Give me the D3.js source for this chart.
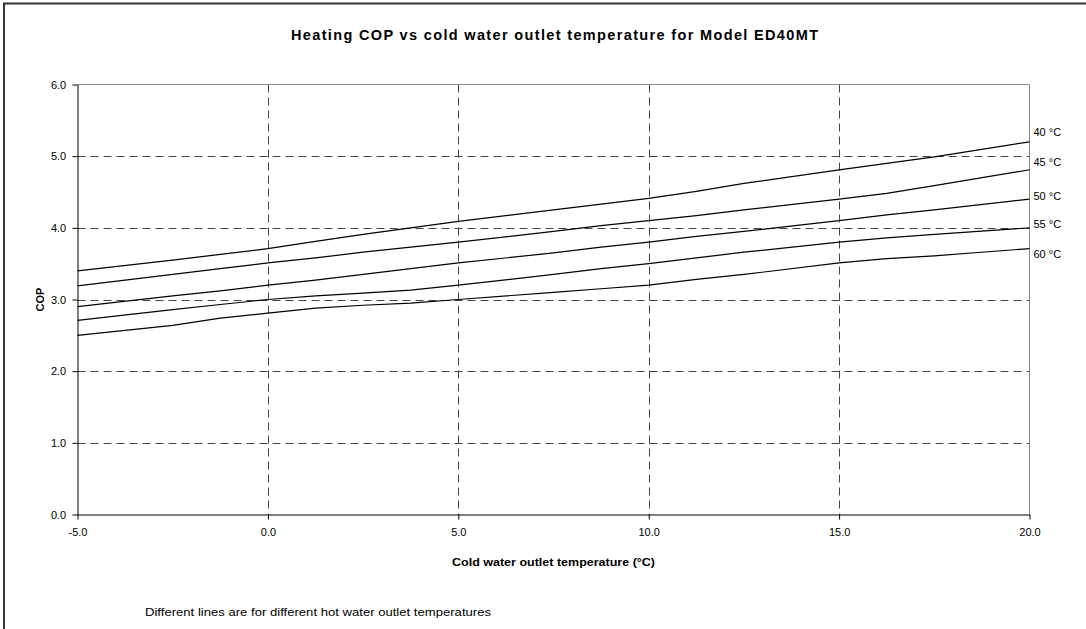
<!DOCTYPE html>
<html><head><meta charset="utf-8">
<script src="https://cdn.jsdelivr.net/npm/d3@7/dist/d3.min.js"></script>
<style>
html,body{margin:0;padding:0;background:#fff;}
svg{display:block;font-family:"Liberation Sans",Arial,sans-serif;}
</style></head>
<body><svg id="c" width="1086" height="629"></svg>
<script>
// ---- data ----
const coldTemp = [-5, -2.5, -1.25, 0, 1.25, 2.5, 3.75, 5, 7.5, 8.75, 10, 11.25, 12.5, 15, 16.25, 17.5, 20];
const cop40 = [3.40, 3.55, 3.63, 3.71, 3.81, 3.91, 4.00, 4.09, 4.25, 4.33, 4.41, 4.51, 4.62, 4.81, 4.90, 4.99, 5.20];
const cop45 = [3.19, 3.35, 3.43, 3.51, 3.58, 3.66, 3.73, 3.80, 3.95, 4.03, 4.10, 4.17, 4.25, 4.40, 4.48, 4.59, 4.81];
const cop50 = [2.90, 3.05, 3.12, 3.20, 3.27, 3.35, 3.43, 3.51, 3.65, 3.73, 3.80, 3.88, 3.95, 4.10, 4.18, 4.25, 4.40];
const cop55 = [2.71, 2.86, 2.93, 3.00, 3.05, 3.09, 3.13, 3.20, 3.35, 3.43, 3.50, 3.58, 3.66, 3.80, 3.86, 3.91, 4.00];
const cop60 = [2.50, 2.64, 2.74, 2.81, 2.88, 2.92, 2.95, 3.00, 3.10, 3.15, 3.20, 3.28, 3.35, 3.51, 3.57, 3.61, 3.71];
const seriesNames = ["40 °C", "45 °C", "50 °C", "55 °C", "60 °C"];
const labelCOP = [5.33, 4.91, 4.44, 4.05, 3.63];
const xTicks = [-5, 0, 5, 10, 15, 20];
const yTicks = [0, 1, 2, 3, 4, 5, 6];
const titleText = "Heating COP vs cold water outlet temperature for Model ED40MT";
const xTitle = "Cold water outlet temperature (°C)";
const yTitle = "COP";
const note = "Different lines are for different hot water outlet temperatures";

const allSeries = [cop40, cop45, cop50, cop55, cop60];

// ---- layout ----
const svg = d3.select("#c");
const L = 77.5, R = 1029.5, T = 84.5, B = 514.5;
const x = d3.scaleLinear().domain([-5, 20]).range([L, R]);
const y = d3.scaleLinear().domain([0, 6]).range([B, T]);
const fmt = d => d3.format(".1f")(d).replace("\u2212", "-");

// outer frame
svg.append("rect").attr("x", 4).attr("y", 3.5).attr("width", 1100).attr("height", 700)
  .attr("fill", "none").attr("stroke", "#333").attr("stroke-width", 2);

// title
svg.append("text").attr("x", (L + R) / 2 + 1).attr("y", 40).attr("text-anchor", "middle")
  .style("font-size", "14.5px").style("font-weight", "bold").attr("fill", "#000")
  .attr("textLength", 527).attr("lengthAdjust", "spacing").text(titleText);

// grid
const g = svg.append("g");
g.selectAll(".hg").data(yTicks.filter(d => d > 0 && d < 6)).join("line")
  .attr("x1", L).attr("x2", R).attr("y1", d => Math.round(y(d)) + 0.5).attr("y2", d => Math.round(y(d)) + 0.5)
  .attr("stroke", "#444").attr("stroke-dasharray", "8,5");
g.selectAll(".vg").data(xTicks.filter(d => d > -5 && d < 20)).join("line")
  .attr("y1", T).attr("y2", B).attr("x1", d => Math.round(x(d)) + 0.5).attr("x2", d => Math.round(x(d)) + 0.5)
  .attr("stroke", "#444").attr("stroke-dasharray", "8,5");

// plot frame top/right (grey)
svg.append("path").attr("d", `M${L},${T}H${R}V${B}`).attr("fill", "none").attr("stroke", "#888");

// axes
const xAxis = d3.axisBottom(x).tickValues(xTicks).tickFormat(fmt).tickSize(5).tickSizeOuter(0);
const yAxis = d3.axisLeft(y).tickValues(yTicks).tickFormat(fmt).tickSize(5).tickSizeOuter(0);
const xa = svg.append("g").attr("transform", `translate(0,${B})`).call(xAxis);
const ya = svg.append("g").attr("transform", `translate(${L},0)`).call(yAxis);
[xa, ya].forEach(a => {
  a.select(".domain").attr("stroke", "#000");
  a.selectAll(".tick line").attr("stroke", "#000");
  a.selectAll(".tick text").attr("font-size", 11).attr("fill", "#000")
    .attr("font-family", "'Liberation Sans',Arial,sans-serif");
});
xa.selectAll(".tick text").attr("dy", "1.2em");
ya.selectAll(".tick text").attr("dx", "-0.3em");

// lines
const line = d3.line().x((d, i) => x(coldTemp[i])).y(d => y(d));
svg.selectAll(".ln").data(allSeries).join("path")
  .attr("d", d => line(d)).attr("fill", "none").attr("stroke", "#000").attr("stroke-width", 1.2);

// series labels
svg.selectAll(".sl").data(seriesNames).join("text")
  .attr("x", R + 4).attr("y", (d, i) => y(labelCOP[i])).attr("dy", "0.35em")
  .attr("font-size", 11).attr("fill", "#000").text(d => d);

// axis titles
svg.append("text").attr("x", (L + R) / 2).attr("y", 566).attr("text-anchor", "middle")
  .attr("font-size", 11).attr("font-weight", "bold").attr("textLength", 203).attr("lengthAdjust", "spacingAndGlyphs").text(xTitle);
svg.append("text").attr("transform", `translate(44,${(T + B) / 2}) rotate(-90)`).attr("text-anchor", "middle")
  .attr("font-size", 11).attr("font-weight", "bold").text(yTitle);

// note
svg.append("text").attr("x", 145).attr("y", 616).attr("font-size", 11)
  .attr("textLength", 346).attr("lengthAdjust", "spacingAndGlyphs").text(note);
</script></body></html>
